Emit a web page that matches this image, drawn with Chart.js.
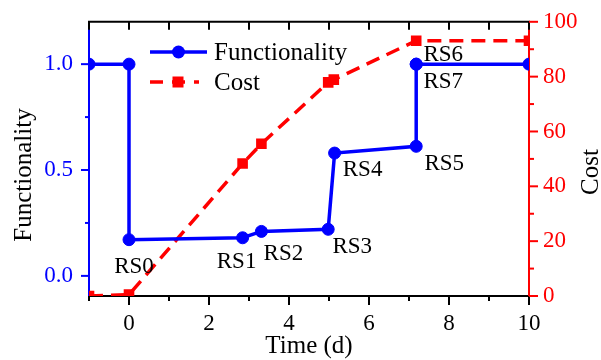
<!DOCTYPE html>
<html><head><meta charset="utf-8">
<script src="https://cdn.jsdelivr.net/npm/chart.js@4/dist/chart.umd.min.js"></script>
<style>html,body{margin:0;padding:0;background:#fff}#wrap{width:601px;height:360px;position:relative}</style>
</head><body><div id="wrap"><canvas id="c" width="601" height="360"></canvas></div>
<script>
// ---- data ----
const timeFunctionality = [-1, 0, 0, 2.84, 3.31, 4.98, 5.14, 7.18, 7.18, 7.18, 10];
const functionality     = [1.0, 1.0, 0.171, 0.18, 0.21, 0.22, 0.58, 0.612, 1.0, 1.0, 1.0];
const stateLabels       = [null, null, 'RS0', 'RS1', 'RS2', 'RS3', 'RS4', 'RS5', 'RS6', 'RS7', null];
const timeCost = [-1, 0, 2.84, 3.31, 4.98, 5.12, 7.18, 10];
const cost     = [0, 0.5, 48.3, 55.5, 77.9, 78.9, 93.1, 93.1];
const xMajorTicks = [0, 2, 4, 6, 8, 10];
const xMinorTicks = [-1, 1, 3, 5, 7, 9];
const funcMajorTicks = [0, 0.5, 1.0];
const funcMinorTicks = [0.25, 0.75];
const costMajorTicks = [0, 20, 40, 60, 80, 100];
const costMinorTicks = [10, 30, 50, 70, 90];
const seriesNames = ['Functionality', 'Cost'];
const axisTitles = {x: 'Time (d)', y: 'Functionality', y1: 'Cost'};

// ---- style ----
const BLUE = '#0000ff', RED = '#ff0000';
const FONT = '"Liberation Serif", "Times New Roman", serif';
const labelOffsets = {RS0:[5,27], RS1:[-6,24], RS2:[22,23], RS3:[24,18], RS4:[28,17], RS5:[28,18], RS6:[27,-9], RS7:[27,18]};

const decor = {
  id: 'decor',
  afterDraw(chart) {
    const ctx = chart.ctx, a = chart.chartArea;
    const sx = chart.scales.x, sy = chart.scales.y, sy1 = chart.scales.y1;
    ctx.save();
    ctx.strokeStyle = '#000'; ctx.lineWidth = 2;
    ctx.beginPath(); ctx.moveTo(a.left - 1, a.top); ctx.lineTo(a.right + 1, a.top); ctx.stroke();
    const tick = (x1, y1, x2, y2, c) => { ctx.strokeStyle = c; ctx.beginPath(); ctx.moveTo(x1, y1); ctx.lineTo(x2, y2); ctx.stroke(); };
    [...xMajorTicks, ...xMinorTicks].forEach(v => { const x = sx.getPixelForValue(v); tick(x, a.top, x, a.top + 8, '#000'); });
    xMajorTicks.forEach(v => { const x = sx.getPixelForValue(v); tick(x, a.bottom, x, a.bottom + 9, '#000'); });
    xMinorTicks.forEach(v => { const x = sx.getPixelForValue(v); tick(x, a.bottom, x, a.bottom + 5, '#000'); });
    funcMajorTicks.forEach(v => { const y = sy.getPixelForValue(v); tick(a.left, y, a.left - 8, y, BLUE); });
    funcMinorTicks.forEach(v => { const y = sy.getPixelForValue(v); tick(a.left, y, a.left - 4, y, BLUE); });
    costMajorTicks.forEach(v => { const y = sy1.getPixelForValue(v); tick(a.right, y, a.right + 9, y, RED); });
    costMinorTicks.forEach(v => { const y = sy1.getPixelForValue(v); tick(a.right, y, a.right + 5, y, RED); });

    ctx.fillStyle = '#000'; ctx.font = '23px ' + FONT; ctx.textAlign = 'center'; ctx.textBaseline = 'middle';
    stateLabels.forEach((lab, i) => {
      if (!lab) return;
      const x = sx.getPixelForValue(timeFunctionality[i]), y = sy.getPixelForValue(functionality[i]);
      const o = labelOffsets[lab];
      ctx.fillText(lab, x + o[0], y + o[1]);
    });

    ctx.font = '25px ' + FONT; ctx.fillStyle = '#000';
    ctx.fillText(axisTitles.x, (a.left + a.right) / 2, 346);
    ctx.save(); ctx.translate(24, 175); ctx.rotate(-Math.PI / 2); ctx.fillText(axisTitles.y, 0, 0); ctx.restore();
    ctx.save(); ctx.translate(591, 172); ctx.rotate(-Math.PI / 2); ctx.fillText(axisTitles.y1, 0, 0); ctx.restore();

    const lx1 = 150, lx2 = 207, tx = 214, rows = [52, 82];
    ctx.textAlign = 'left';
    ctx.strokeStyle = BLUE; ctx.lineWidth = 3.5; ctx.setLineDash([]);
    ctx.beginPath(); ctx.moveTo(lx1, rows[0]); ctx.lineTo(lx2, rows[0]); ctx.stroke();
    ctx.fillStyle = BLUE; ctx.beginPath(); ctx.arc((lx1 + lx2) / 2, rows[0], 6.5, 0, Math.PI * 2); ctx.fill();
    ctx.fillStyle = '#000'; ctx.fillText(seriesNames[0], tx, rows[0] + 1);
    ctx.strokeStyle = RED; ctx.setLineDash([13, 9]);
    ctx.beginPath(); ctx.moveTo(lx1, rows[1]); ctx.lineTo(lx2 - 8, rows[1]); ctx.stroke();
    ctx.setLineDash([]);
    ctx.fillStyle = RED; ctx.fillRect(178 - 5.5, rows[1] - 5.5, 11, 11);
    ctx.fillStyle = '#000'; ctx.fillText(seriesNames[1], tx, rows[1] + 1);
    ctx.restore();
  }
};

new Chart(document.getElementById('c'), {
  type: 'line',
  data: {
    datasets: [
      {
        label: seriesNames[0], yAxisID: 'y',
        data: timeFunctionality.map((t, i) => ({x: t, y: functionality[i]})),
        borderColor: BLUE, backgroundColor: BLUE, borderWidth: 3.5,
        pointRadius: 6, pointBorderWidth: 1, pointStyle: 'circle', clip: 0, tension: 0
      },
      {
        label: seriesNames[1], yAxisID: 'y1',
        data: timeCost.map((t, i) => ({x: t, y: cost[i]})),
        borderColor: RED, backgroundColor: RED, borderWidth: 3.5, borderDash: [14, 8],
        pointRadius: 7.5, pointBorderWidth: 0, pointStyle: 'rect', clip: 0, tension: 0
      }
    ]
  },
  options: {
    responsive: false, animation: false, devicePixelRatio: 1,
    layout: {padding: {top: 20, left: 0, right: 0, bottom: 0}},
    plugins: {legend: {display: false}, tooltip: {enabled: false}},
    scales: {
      x: {
        type: 'linear', position: 'bottom', min: -1, max: 10,
        afterBuildTicks: s => { s.ticks = xMajorTicks.map(v => ({value: v})); },
        afterFit: s => { s.height = 64; },
        grid: {display: true, drawOnChartArea: false, drawTicks: true, tickLength: 9, color: 'rgba(0,0,0,0)'},
        border: {display: true, color: '#000', width: 2},
        ticks: {color: '#000', font: {family: FONT, size: 23}, padding: 5, maxRotation: 0, callback: v => String(v)}
      },
      y: {
        type: 'linear', position: 'left', min: -0.095, max: 1.2,
        afterBuildTicks: s => { s.ticks = funcMajorTicks.map(v => ({value: v})); },
        afterFit: s => { s.width = 89; },
        grid: {display: true, drawOnChartArea: false, drawTicks: true, tickLength: 8, color: 'rgba(0,0,0,0)'},
        border: {display: true, color: BLUE, width: 2},
        ticks: {color: BLUE, font: {family: FONT, size: 23}, padding: 8, callback: v => Number(v).toFixed(1)}
      },
      y1: {
        type: 'linear', position: 'right', min: 0, max: 100,
        afterBuildTicks: s => { s.ticks = costMajorTicks.map(v => ({value: v})); },
        afterFit: s => { s.width = 72; },
        grid: {display: true, drawOnChartArea: false, drawTicks: true, tickLength: 9, color: 'rgba(0,0,0,0)'},
        border: {display: true, color: RED, width: 2},
        ticks: {color: RED, font: {family: FONT, size: 23}, padding: 5, callback: v => String(v)}
      }
    }
  },
  plugins: [decor]
});
</script></body></html>
